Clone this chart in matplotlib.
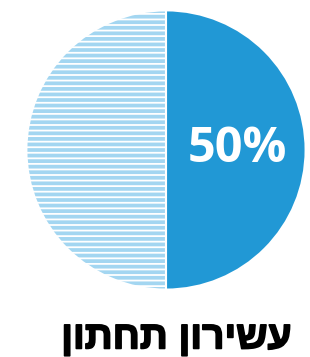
import matplotlib.pyplot as plt
import matplotlib.patheffects as pe

# נתונים
labels = ['עשירון תחתון', 'שאר']
values = [50, 50]
pct_text = '50%'
title = 'עשירון תחתון'

blue = '#2198d5'
light = '#a3d6f1'

plt.rcParams['hatch.linewidth'] = 1.3

fig = plt.figure(figsize=(3.10, 3.57), dpi=100)
ax = fig.add_axes([0.0806, 0.1849, 0.9097, 0.79])

wedges, _ = ax.pie(values, startangle=90, counterclock=False, radius=1,
                   colors=[blue, light],
                   wedgeprops=dict(edgecolor='white', linewidth=1.5))
wedges[1].set_hatch('---')
ax.set_xlim(-1.01, 1.01)
ax.set_ylim(-1.01, 1.01)
ax.set_aspect('equal')
ax.axis('off')

# תווית אחוז על החצי הכחול
ax.text(0.51, 0.0, pct_text, color='white', fontsize=35, fontweight='bold',
        ha='center', va='center', family=['Open Sans', 'DejaVu Sans'])

# matplotlib לא הופך טקסט מימין לשמאל, לכן הופכים ידנית
fig.text(0.568, 0.052, title[::-1], fontsize=28, fontweight='bold',
         ha='center', va='center', family=['Liberation Sans', 'DejaVu Sans'],
         path_effects=[pe.withStroke(linewidth=1.2, foreground='black')])

fig.savefig('out.png', dpi=100)
